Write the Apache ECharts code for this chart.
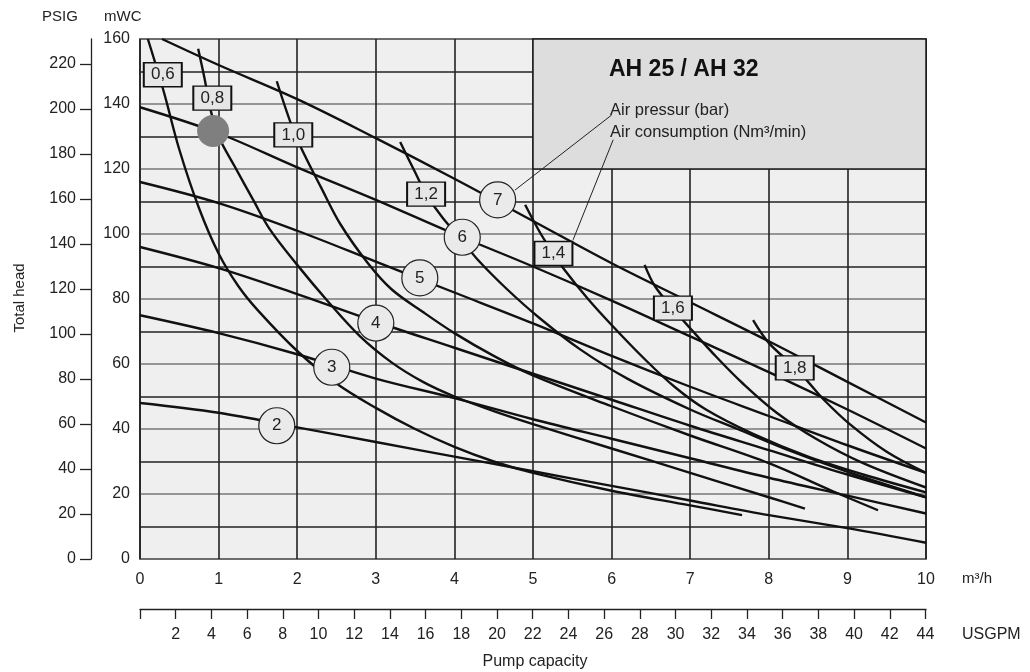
<!DOCTYPE html>
<html><head><meta charset="utf-8">
<script src="https://cdn.jsdelivr.net/npm/echarts@6/dist/echarts.min.js"></script>
<style>html,body{margin:0;padding:0;background:#fff}#c{width:1030px;height:672px}</style>
</head><body><div id="c"></div>
<script>
// ---- data (x: m3/h, y: mWC) ----
// air pressure curves (bar)
const press2 = [[0,48],[1,45],[2,40.5],[3,36],[4,31.5],[5,27],[6,22.5],[7,18],[8,13.5],[9,9.5],[10,5]];
const press3 = [[0,75],[1,69.5],[2,63],[3,55.5],[4,49.5],[5,43],[6,37],[7,31],[8,25],[9,19.5],[10,14]];
const press4 = [[0,96],[1,89.5],[2,81.5],[3,73],[4,65],[5,57],[6,49],[7,41],[8,33.5],[9,26],[10,19]];
const press5 = [[0,116],[1,109.5],[2,101],[3,91.5],[4,82],[5,72.5],[6,62.5],[7,53],[8,44],[9,35],[10,26.5]];
const press6 = [[0,139],[1,131],[2,120.5],[3,110.5],[4,100],[5,90],[6,79.5],[7,68.5],[8,57.5],[9,46],[10,34]];
const press7 = [[0.28,160],[1,152],[2,141.5],[3,129.5],[4,117],[5,104],[6,91],[7,79],[8,67],[9,54.5],[10,42]];
// air consumption curves (Nm3/min)
const cons06 = [[0.1,160],[0.3,144],[0.5,126],[0.75,108],[1.0,94],[1.25,84],[1.5,76.5],[2.0,64],[2.5,54],[3.0,46.5],[3.5,40],[4.0,34.5],[4.5,30],[5.0,26.5],[6.0,21],[7.0,16.5],[7.66,13.5]];
const cons08 = [[0.74,157],[0.82,148],[0.9,138],[1.0,130],[1.2,121],[1.44,110.5],[1.65,101.5],[2.0,90.5],[2.4,79],[2.8,68.5],[3.2,60.5],[3.6,54.5],[4,50],[4.5,45.5],[5,41.5],[6,34],[7,26.5],[8,19],[8.46,15.5]];
const cons10 = [[1.74,147],[1.95,132],[2.1,124],[2.3,114.5],[2.55,103],[2.9,91],[3.2,83],[3.6,76],[4,69.5],[4.5,62.5],[5,56.5],[6,47],[7,38],[8,29.5],[8.8,21],[9.39,15]];
const cons12 = [[3.31,128.3],[3.5,119],[3.64,112.3],[3.85,105],[4.1,98],[4.3,92],[4.67,83],[5.09,74],[5.6,64.5],[6.2,55.5],[7,46],[7.6,40],[8.3,33],[9.1,26],[10,19]];
const cons14 = [[4.9,109],[5.1,100],[5.26,94],[5.4,89],[5.7,80],[6.0,72],[6.4,62],[6.8,53],[7.2,46],[7.8,38.5],[8.5,31.5],[9.2,26],[10,20.5]];
const cons16 = [[6.42,90.5],[6.55,84],[6.78,77],[7.0,71],[7.34,62],[7.67,54],[8.1,45],[8.6,37],[9.2,29.5],[10,22]];
const cons18 = [[7.8,73.5],[8.0,66.5],[8.33,59],[8.5,54.5],[8.7,49],[9.03,41.5],[9.5,33],[10,26.5]];
// labels
const pressureLabels = [[1.74,41,'2'],[2.44,59,'3'],[3.0,72.6,'4'],[3.56,86.5,'5'],[4.1,99,'6'],[4.55,110.5,'7']];
const consumptionLabels = [[0.29,149,'0,6'],[0.92,141.8,'0,8'],[1.95,130.5,'1,0'],[3.64,112.3,'1,2'],[5.26,94,'1,4'],[6.78,77.2,'1,6'],[8.33,58.8,'1,8']];
const operatingPoint = [[0.93,131.7]];
const leaderPressure = [[6.0,136.6],[4.77,113.5]];
const leaderConsumption = [[6.02,129],[5.51,98.2]];
const infoBox = [[5,160],[10,120]];
// axis ticks
const mwcMax = 160;
const psigMax = 231;
const psigTicks = [0,20,40,60,80,100,120,140,160,180,200,220];
const usgpmTicks = [0,2,4,6,8,10,12,14,16,18,20,22,24,26,28,30,32,34,36,38,40,42,44];
const usgpmLabels = usgpmTicks.filter(v => v > 0);
const titleText = 'AH 25 / AH 32';
const legendLines = ['Air pressur (bar)', 'Air consumption (Nm³/min)'];

const FONT = '"Liberation Sans", Arial, Helvetica, sans-serif';
const chart = echarts.init(document.getElementById('c'));
const curveStyle = {color:'#111', width:2.4};
function curve(name, data){
  return {name, type:'line', data, xAxisIndex:0, yAxisIndex:0, showSymbol:false, symbol:'none',
    smooth:0.35, lineStyle:curveStyle, silent:true, z:3, animation:false};
}
const curves = [
  curve('2',press2),curve('3',press3),curve('4',press4),curve('5',press5),curve('6',press6),curve('7',press7),
  curve('0,6',cons06),curve('0,8',cons08),curve('1,0',cons10),curve('1,2',cons12),curve('1,4',cons14),curve('1,6',cons16),curve('1,8',cons18)
];
const option = {
  animation:false,
  textStyle:{fontFamily:FONT},
  grid:{left:140,right:104,top:39,bottom:113,show:true,backgroundColor:'#efefef',borderColor:'#1a1a1a',borderWidth:1.5},
  xAxis:[
    {type:'value',min:0,max:10,interval:1,position:'bottom',
     axisLine:{show:false},axisTick:{show:false},
     axisLabel:{margin:13,fontSize:16,color:'#222',fontFamily:FONT},
     splitLine:{show:true,lineStyle:{color:'#222',width:1.6}}},
    {type:'value',min:0,max:44.03,interval:2,position:'bottom',offset:50,
     axisLine:{show:true,onZero:false,lineStyle:{color:'#222',width:1.3}},
     axisTick:{show:true,length:10,customValues:usgpmTicks,lineStyle:{color:'#222',width:1.3}},
     axisLabel:{margin:18,fontSize:16,color:'#222',fontFamily:FONT,customValues:usgpmLabels,
       formatter:v=> (v>0 && Math.abs(v-Math.round(v))<1e-6) ? String(v) : ''},
     splitLine:{show:false}}
  ],
  yAxis:[
    {type:'value',min:0,max:mwcMax,interval:10,position:'left',
     axisLine:{show:false},axisTick:{show:false},
     axisLabel:{margin:10,fontSize:16,color:'#222',fontFamily:FONT,padding:[6,0,0,0],formatter:v=> v%20===0 ? String(v) : ''},
     splitLine:{show:true,lineStyle:{color:['#777','#222'],width:1.6}}},
    {type:'value',min:0,max:psigMax,interval:20,position:'left',offset:49,
     axisLine:{show:true,onZero:false,lineStyle:{color:'#222',width:1.3}},
     axisTick:{show:true,length:11,customValues:psigTicks,lineStyle:{color:'#222',width:1.3}},
     axisLabel:{margin:15,fontSize:16,color:'#222',fontFamily:FONT,customValues:psigTicks,padding:[0,0,8,0],
       formatter:v=> (Math.abs(v-Math.round(v))<1e-6 && v<=220) ? String(v) : ''},
     splitLine:{show:false}}
  ],
  series:[
    {type:'line',data:[],xAxisIndex:0,yAxisIndex:0,silent:true,z:2,
     markArea:{silent:true,itemStyle:{color:'#dddddd',borderColor:'#1a1a1a',borderWidth:1.5},
       data:[[{coord:infoBox[0]},{coord:infoBox[1]}]]}},
    ...curves,
    {type:'line',data:leaderPressure,showSymbol:false,symbol:'none',lineStyle:{color:'#222',width:1},silent:true,z:4},
    {type:'line',data:leaderConsumption,showSymbol:false,symbol:'none',lineStyle:{color:'#222',width:1},silent:true,z:4},
    {type:'scatter',data:operatingPoint,symbol:'circle',symbolSize:32,itemStyle:{color:'#7f7f7f',opacity:1},silent:true,z:6},
    {type:'scatter',data:pressureLabels,symbol:'circle',symbolSize:36,
     itemStyle:{color:'#eaeaea',borderColor:'#222',borderWidth:1.2,opacity:1},silent:true,z:6,
     label:{show:true,position:'inside',formatter:p=>p.value[2],fontSize:17,color:'#222',fontFamily:FONT}},
    {type:'scatter',data:consumptionLabels,symbol:'rect',symbolSize:[38,24],
     itemStyle:{color:'#e6e6e6',borderColor:'#111',borderWidth:1.6,opacity:1},silent:true,z:6,
     label:{show:true,position:'inside',formatter:p=>p.value[2],fontSize:17,color:'#222',fontFamily:FONT}}
  ],
  graphic:[
    {type:'text',left:42,top:9,style:{text:'PSIG',font:'15px '+FONT,fill:'#222'}},
    {type:'text',left:104,top:9,style:{text:'mWC',font:'15px '+FONT,fill:'#222'}},
    {type:'text',x:20,y:298,rotation:Math.PI/2,style:{text:'Total head',font:'15px '+FONT,fill:'#222',align:'center',verticalAlign:'middle'}},
    {type:'text',left:962,top:571,style:{text:'m³/h',font:'15px '+FONT,fill:'#222'}},
    {type:'text',left:962,top:627,style:{text:'USGPM',font:'16px '+FONT,fill:'#222'}},
    {type:'text',x:535,y:662,style:{text:'Pump capacity',font:'16px '+FONT,fill:'#222',align:'center',verticalAlign:'middle'}},
    {type:'text',left:609,top:58,z:10,style:{text:titleText,font:'bold 23px '+FONT,fill:'#111'}},
    {type:'text',left:610,top:102,z:10,style:{text:legendLines[0],font:'16.5px '+FONT,fill:'#222'}},
    {type:'text',left:610,top:124,z:10,style:{text:legendLines[1],font:'16.5px '+FONT,fill:'#222'}}
  ]
};
chart.setOption(option);
</script></body></html>
